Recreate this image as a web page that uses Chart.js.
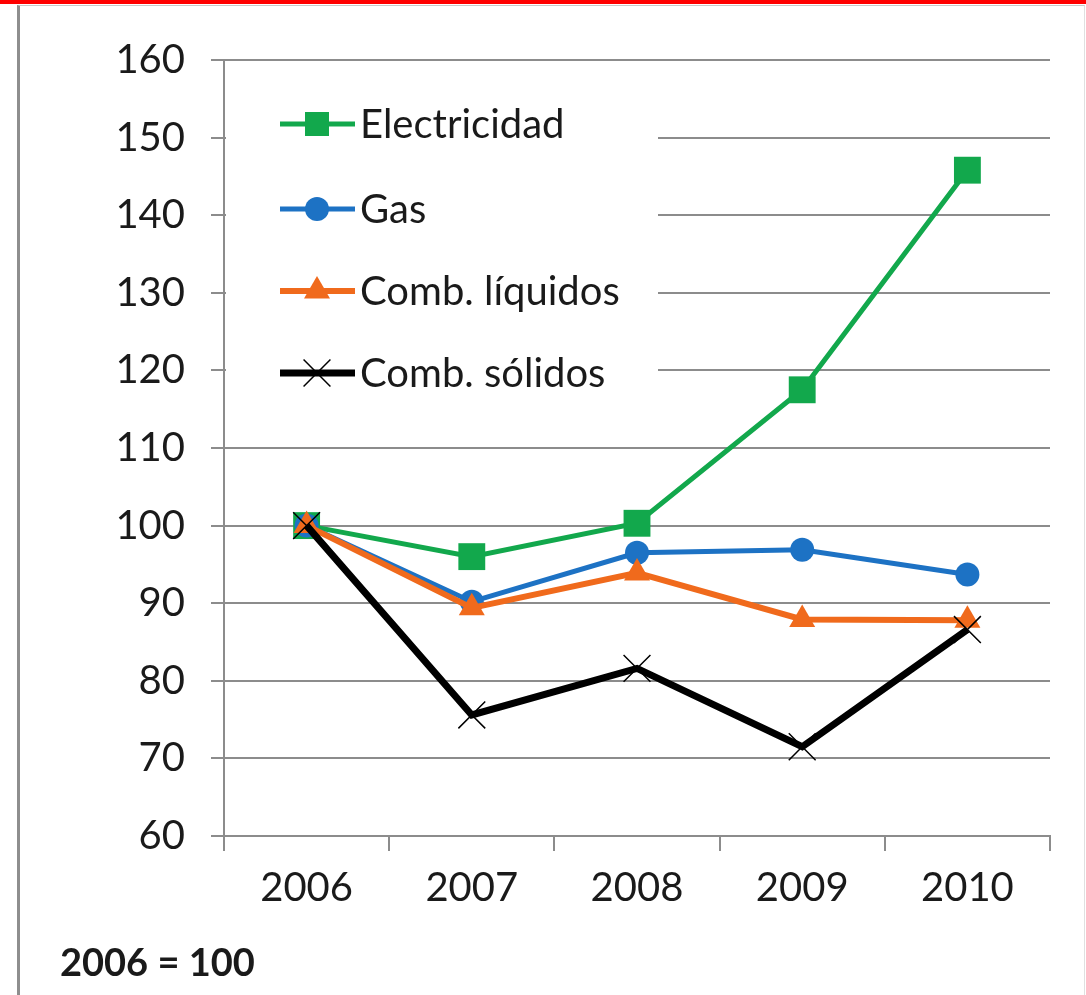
<!DOCTYPE html>
<html lang="es">
<head>
<meta charset="utf-8">
<title>Índice de precios de la energía</title>
<script src="https://cdn.jsdelivr.net/npm/chart.js@4.4.1/dist/chart.umd.min.js"></script>
<style>
    html, body {
        margin: 0;
        padding: 0;
        background: #ffffff;
    }
    .page {
        position: relative;
        width: 1086px;
        height: 995px;
        overflow: hidden;
    }
    .top-bar {
        position: absolute;
        left: 0;
        top: 0;
        width: 1086px;
        height: 4px;
        background: #ff0000;
    }
    .frame {
        position: absolute;
        left: 17px;
        top: 5px;
        width: 1064px;
        height: 995px;
        border-left: 3px solid #8e8e8e;
        border-top: 1px solid #c8c8c8;
        border-right: 1px solid #e0e0e0;
    }
    .chart-box {
        position: absolute;
        left: 0;
        top: 0;
        width: 1086px;
        height: 995px;
    }
    .base-note {
        position: absolute;
        left: 60px;
        top: 938px;
        font-family: Lato, "Open Sans", sans-serif;
        font-weight: bold;
        font-size: 38px;
        color: #1a1a1a;
    }
</style>
</head>
<body>
<div class="page">
    <div class="top-bar"></div>
    <div class="frame"></div>
    <div class="chart-box"><canvas id="priceChart"></canvas></div>
    <div class="base-note">2006 = 100</div>
</div>

<script>
// Años y series del índice (2006 = 100)
const years = ['2006', '2007', '2008', '2009', '2010'];
const electricidad = [100, 96.0, 100.3, 117.5, 145.8];
const gas = [100, 90.2, 96.5, 96.9, 93.7];
const combLiquidos = [100, 89.4, 93.9, 87.9, 87.8];
const combSolidos = [100, 75.6, 81.6, 71.5, 86.6];

const yTicks = [60, 70, 80, 90, 100, 110, 120, 130, 140, 150, 160];

const FONT = 'Lato, "Open Sans", sans-serif';
const FONT_SIZE = 40;
const GRID_COLOR = '#8c8c8c';

// Series style (also used by the legend box)
const seriesStyles = [
    { label: 'Electricidad', data: electricidad, color: '#12a84c', width: 5, point: 'rect', radius: 19 },
    { label: 'Gas', data: gas, color: '#1d72c4', width: 5, point: 'circle', radius: 12 },
    { label: 'Comb. líquidos', data: combLiquidos, color: '#f06a1c', width: 6, point: 'triangle', radius: 15 },
    { label: 'Comb. sólidos', data: combSolidos, color: '#000000', width: 7, point: 'crossRot', radius: 19 }
];

// Draw one marker at (x, y)
function drawMarker(ctx, style, x, y, r) {
    ctx.save();
    ctx.fillStyle = style.color;
    ctx.strokeStyle = style.color;
    ctx.beginPath();
    if (style.point === 'rect') {
        const s = r * Math.SQRT1_2;
        ctx.rect(x - s, y - s, 2 * s, 2 * s);
        ctx.fill();
    } else if (style.point === 'circle') {
        ctx.arc(x, y, r, 0, Math.PI * 2);
        ctx.fill();
    } else if (style.point === 'triangle') {
        let a = 0;
        ctx.moveTo(x + Math.sin(a) * r, y - Math.cos(a) * r);
        a += Math.PI * 2 / 3;
        ctx.lineTo(x + Math.sin(a) * r, y - Math.cos(a) * r);
        a += Math.PI * 2 / 3;
        ctx.lineTo(x + Math.sin(a) * r, y - Math.cos(a) * r);
        ctx.closePath();
        ctx.fill();
    } else {
        const d = r * Math.SQRT1_2;
        ctx.lineWidth = 1.5;
        ctx.moveTo(x - d, y - d);
        ctx.lineTo(x + d, y + d);
        ctx.moveTo(x - d, y + d);
        ctx.lineTo(x + d, y - d);
        ctx.stroke();
    }
    ctx.restore();
}

// Legend box inside the plot, on top of the gridlines
const insideLegend = {
    id: 'insideLegend',
    beforeDatasetsDraw(chart) {
        const ctx = chart.ctx;
        const area = chart.chartArea;
        ctx.save();
        ctx.fillStyle = '#ffffff';
        ctx.fillRect(area.left + 2, 78, 658 - area.left - 2, 340);

        const rows = [124, 209, 291, 373];
        ctx.font = FONT_SIZE + 'px ' + FONT;
        ctx.textBaseline = 'middle';
        ctx.textAlign = 'left';
        seriesStyles.forEach((style, i) => {
            const y = rows[i];
            ctx.strokeStyle = style.color;
            ctx.lineWidth = style.width;
            ctx.beginPath();
            ctx.moveTo(280, y);
            ctx.lineTo(355, y);
            ctx.stroke();
            drawMarker(ctx, style, 317, y, style.point === 'rect' ? 17 : style.radius);
            ctx.fillStyle = '#1a1a1a';
            ctx.fillText(style.label, 360, y + 1);
        });
        ctx.restore();
    }
};

const datasets = seriesStyles.map((style, i) => ({
    label: style.label,
    data: style.data,
    borderColor: style.color,
    backgroundColor: style.color,
    borderWidth: style.width,
    pointStyle: style.point,
    pointRadius: style.radius,
    pointHoverRadius: style.radius,
    pointBorderWidth: style.point === 'crossRot' ? 1.5 : 0,
    pointBorderColor: style.color,
    pointBackgroundColor: style.color,
    tension: 0,
    fill: false,
    order: seriesStyles.length - i
}));

new Chart(document.getElementById('priceChart'), {
    type: 'line',
    data: {
        labels: years,
        datasets: datasets
    },
    options: {
        responsive: true,
        maintainAspectRatio: false,
        animation: false,
        layout: {
            padding: { top: 60, right: 36, bottom: 0, left: 0 }
        },
        plugins: {
            legend: { display: false },
            tooltip: { enabled: false }
        },
        scales: {
            x: {
                offset: true,
                grid: {
                    offset: true,
                    drawOnChartArea: false,
                    drawTicks: true,
                    tickLength: 15,
                    color: GRID_COLOR,
                    lineWidth: 2
                },
                border: { color: GRID_COLOR, width: 2 },
                ticks: {
                    color: '#1a1a1a',
                    padding: 13,
                    font: { family: FONT, size: FONT_SIZE }
                },
                afterFit: function(scale) {
                    scale.height = 159;
                }
            },
            y: {
                min: 60,
                max: 160,
                afterBuildTicks: function(scale) {
                    scale.ticks = yTicks.map(v => ({ value: v }));
                },
                grid: {
                    color: GRID_COLOR,
                    lineWidth: 2,
                    drawTicks: true,
                    tickLength: 13
                },
                border: { color: GRID_COLOR, width: 2 },
                ticks: {
                    color: '#1a1a1a',
                    padding: 26,
                    font: { family: FONT, size: FONT_SIZE }
                },
                afterFit: function(scale) {
                    scale.width = 224;
                }
            }
        }
    },
    plugins: [insideLegend]
});
</script>
</body>
</html>
